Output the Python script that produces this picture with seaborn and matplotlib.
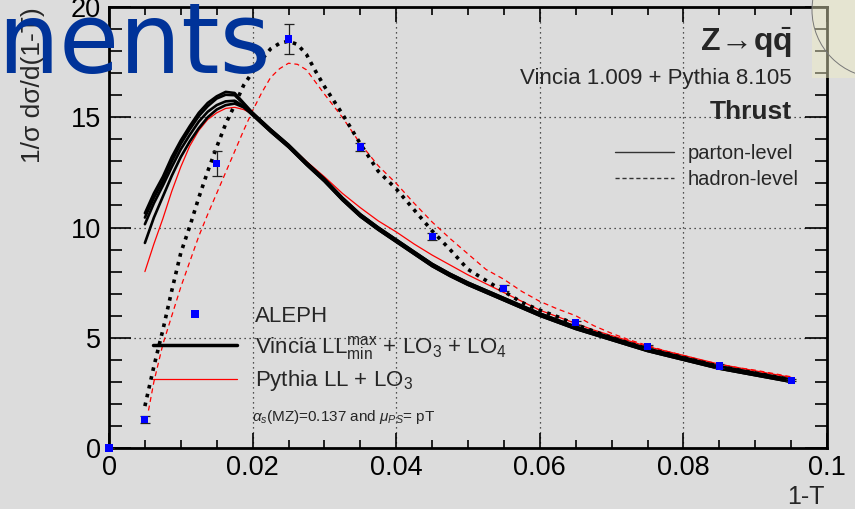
import numpy as np
import pandas as pd
import matplotlib
matplotlib.use("Agg")
import matplotlib.pyplot as plt
import seaborn as sns
from matplotlib.lines import Line2D
from matplotlib.ticker import MultipleLocator, FuncFormatter
from matplotlib.patches import Rectangle, Ellipse

# ── DATOS ────────────────────────────────────────────────────────────────────

# malla fina en la subida, malla gruesa en la cola
rise_x = [0.005, 0.00625, 0.0075, 0.00875, 0.01, 0.01125, 0.0125, 0.01375,
          0.015, 0.01625, 0.0175, 0.01875]
tail_x = [0.02, 0.0225, 0.025, 0.0275, 0.03, 0.0325, 0.035, 0.0375, 0.04, 0.0425,
          0.045, 0.0475, 0.05, 0.0525, 0.055, 0.0575, 0.06, 0.0625, 0.065, 0.0675,
          0.07, 0.0725, 0.075, 0.0775, 0.08, 0.0825, 0.085, 0.0875, 0.09, 0.0925,
          0.095]

# Vincia parton-level: subida de cada variante
vincia_rise_a = [10.65, 11.55, 12.3, 13.2, 13.95, 14.6, 15.2, 15.65, 15.95, 16.15, 16.1, 15.65]
vincia_rise_b = [10.45, 11.35, 12.1, 13.0, 13.8, 14.45, 15.05, 15.5, 15.85, 16.02, 16.0, 15.6]
vincia_rise_c = [10.15, 11.1, 11.9, 12.75, 13.55, 14.2, 14.8, 15.25, 15.55, 15.72, 15.75, 15.5]
vincia_rise_d = [9.3, 10.45, 11.4, 12.35, 13.2, 13.9, 14.5, 15.0, 15.35, 15.55, 15.62, 15.45]
# cola (0.02 .. 0.095)
vincia_tail_hi = [15.2, 14.45, 13.75, 12.95, 12.2, 11.35, 10.6, 10.0, 9.45, 8.9,
                  8.35, 7.9, 7.5, 7.15, 6.8, 6.45, 6.1, 5.8, 5.5, 5.25, 5.0, 4.75,
                  4.5, 4.3, 4.1, 3.9, 3.7, 3.55, 3.4, 3.25, 3.1]
vincia_tail_lo = [15.1, 14.35, 13.65, 12.85, 12.1, 11.25, 10.5, 9.9, 9.35, 8.8,
                  8.25, 7.8, 7.4, 7.05, 6.7, 6.35, 6.0, 5.7, 5.4, 5.15, 4.9, 4.65,
                  4.4, 4.2, 4.0, 3.8, 3.6, 3.45, 3.3, 3.15, 3.0]

# Pythia parton-level
pythia_par_rise = [8.0, 9.25, 10.4, 11.65, 12.75, 13.7, 14.4, 14.9, 15.2, 15.4, 15.45, 15.35]
pythia_par_tail = [15.15, 14.45, 13.75, 13.0, 12.3, 11.55, 10.9, 10.3, 9.8, 9.25,
                   8.75, 8.3, 7.85, 7.45, 7.05, 6.65, 6.25, 5.95, 5.65, 5.35, 5.1,
                   4.85, 4.6, 4.4, 4.2, 4.0, 3.8, 3.65, 3.5, 3.35, 3.2]

# hadron-level: malla fina hasta 0.03
had_x = [0.005, 0.00625, 0.0075, 0.00875, 0.01, 0.01125, 0.0125, 0.01375, 0.015,
         0.01625, 0.0175, 0.01875, 0.02, 0.02125, 0.0225, 0.02375, 0.025, 0.02625,
         0.0275, 0.02875, 0.03, 0.0325, 0.035, 0.0375, 0.04, 0.0425, 0.045, 0.0475,
         0.05, 0.0525, 0.055, 0.0575, 0.06, 0.0625, 0.065, 0.0675, 0.07, 0.0725,
         0.075, 0.0775, 0.08, 0.0825, 0.085, 0.0875, 0.09, 0.0925, 0.095]
vincia_had = [1.9, 3.7, 5.35, 7.15, 8.85, 10.05, 11.35, 12.55, 13.65, 14.7, 15.55,
              16.45, 17.05, 17.6, 18.1, 18.35, 18.45, 18.3, 17.85, 17.1, 16.4, 15.15,
              13.8, 12.55, 11.75, 10.8, 9.85, 9.0, 8.1, 7.6, 7.1, 6.6, 6.25, 5.95,
              5.6, 5.3, 5.0, 4.75, 4.5, 4.3, 4.1, 3.9, 3.7, 3.55, 3.4, 3.25, 3.1]

pythia_had_x = [0.0055] + had_x[1:]
pythia_had = [1.7, 3.0, 4.7, 6.0, 7.3, 8.45, 9.6, 10.6, 11.55, 12.5, 13.45, 14.4,
              15.3, 16.1, 16.8, 17.2, 17.45, 17.4, 17.15, 16.6, 16.05, 15.0, 13.8,
              12.8, 12.0, 11.1, 10.25, 9.5, 8.8, 8.1, 7.65, 7.1, 6.65, 6.3, 6.0,
              5.55, 5.2, 4.9, 4.65, 4.4, 4.2, 3.98, 3.8, 3.65, 3.53, 3.38, 3.23]

# ALEPH
aleph_x = [0.0, 0.005, 0.015, 0.025, 0.035, 0.045, 0.055, 0.065, 0.075, 0.085, 0.095]
aleph_y = [0.0, 1.3, 12.9, 18.55, 13.65, 9.6, 7.25, 5.68, 4.6, 3.72, 3.08]
aleph_err = [0.0, 0.15, 0.55, 0.7, 0.2, 0.15, 0.12, 0.1, 0.08, 0.07, 0.06]

x_ticks = [0, 0.02, 0.04, 0.06, 0.08, 0.1]
y_ticks = [0, 5, 10, 15, 20]

# ── ESTILO ───────────────────────────────────────────────────────────────────

bg = "#dcdcdc"
sns.set_style("ticks", rc={"axes.facecolor": bg, "figure.facecolor": bg})
plt.rcParams["font.family"] = ["Liberation Sans", "DejaVu Sans"]
plt.rcParams["mathtext.fontset"] = "custom"
plt.rcParams["mathtext.rm"] = "Liberation Sans"
plt.rcParams["mathtext.it"] = "Liberation Sans:italic"
plt.rcParams["mathtext.bf"] = "Liberation Sans:bold"

fig = plt.figure(figsize=(8.55, 5.09), dpi=100)
ax = fig.add_axes([109 / 855, 1 - 448 / 509, 718 / 855, 441 / 509])
ax.set_facecolor(bg)

# ── CURVAS ───────────────────────────────────────────────────────────────────

sns.lineplot(x=rise_x + tail_x, y=pythia_par_rise + pythia_par_tail, ax=ax,
             color="red", lw=0.9, estimator=None, sort=False, zorder=2)
sns.lineplot(x=pythia_had_x, y=pythia_had, ax=ax, color="red", lw=0.9,
             linestyle=(0, (4, 3)), estimator=None, sort=False, zorder=2)

for rise, tail in [(vincia_rise_a, vincia_tail_hi), (vincia_rise_b, vincia_tail_hi),
                   (vincia_rise_c, vincia_tail_lo), (vincia_rise_d, vincia_tail_lo)]:
    sns.lineplot(x=rise_x + tail_x, y=rise + tail, ax=ax, color="black", lw=1.9,
                 estimator=None, sort=False, zorder=3)

sns.lineplot(x=had_x, y=vincia_had, ax=ax, color="black", lw=2.6,
             linestyle=(0, (1.0, 1.5)), estimator=None, sort=False, zorder=3)

ax.errorbar(aleph_x, aleph_y, yerr=aleph_err, fmt="none", ecolor="#222222",
            elinewidth=0.9, capsize=3.5, capthick=0.9, zorder=5)
sns.scatterplot(x=aleph_x, y=aleph_y, ax=ax, marker="s", color="#0000ff", s=26,
                edgecolor="none", zorder=6, clip_on=False)

# ── EJES ─────────────────────────────────────────────────────────────────────

ax.set_xlim(0, 0.1)
ax.set_ylim(0, 20)
ax.set_xticks(x_ticks)
ax.set_yticks(y_ticks)
ax.xaxis.set_minor_locator(MultipleLocator(0.005))
ax.yaxis.set_minor_locator(MultipleLocator(1))
ax.xaxis.set_major_formatter(FuncFormatter(lambda v, p: f"{v:g}"))
ax.tick_params(axis="both", which="both", direction="in", top=True, right=True,
               labelsize=19.5, colors="black")
ax.tick_params(axis="x", which="major", length=11, width=1.2, pad=5)
ax.tick_params(axis="x", which="minor", length=6, width=1.2)
ax.tick_params(axis="y", which="major", length=16, width=1.2, pad=6)
ax.tick_params(axis="y", which="minor", length=9, width=1.2)
for s in ax.spines.values():
    s.set_linewidth(2)
    s.set_color("black")
ax.grid(which="major", linestyle=(0, (1, 3)), color="#222222", lw=0.9)
ax.set_axisbelow(True)

ax.set_xlabel("1-T", loc="right", fontsize=18)
ax.xaxis.set_label_coords(0.997, -0.111)
ax.xaxis.label.set_va("center")
ax.set_ylabel("1/σ dσ/d(1-T)", loc="top", fontsize=19)
ax.yaxis.set_label_coords(-0.106, 1.0)
ax.yaxis.label.set_va("center")

# ── TEXTOS Y LEYENDAS ────────────────────────────────────────────────────────

ax.text(0.951, 0.918, r"$\mathbf{Z}\!\rightarrow\!\mathbf{q}\bar{\mathbf{q}}$",
        transform=ax.transAxes, ha="right", va="center", fontsize=23)
ax.text(0.951, 0.837, "Vincia 1.009 + Pythia 8.105", transform=ax.transAxes,
        ha="right", va="center", fontsize=16)
ax.text(0.951, 0.762, "Thrust", transform=ax.transAxes, ha="right", va="center",
        fontsize=19, fontweight="bold")

lvl_handles = [Line2D([], [], color="#333333", lw=1.0),
               Line2D([], [], color="#333333", lw=1.0, linestyle=(0, (3, 2)))]
leg2 = ax.legend(lvl_handles, ["parton-level", "hadron-level"], loc="upper left",
                 bbox_to_anchor=(0.705, 0.69), frameon=False, fontsize=14.5,
                 handlelength=2.9, handletextpad=0.7, labelspacing=0.38,
                 borderpad=0, borderaxespad=0)
ax.add_artist(leg2)

main_handles = [Line2D([], [], marker="s", color="#0000ff", linestyle="none",
                       markersize=5.5, markeredgewidth=0),
                Line2D([], [], color="black", lw=2.5),
                Line2D([], [], color="red", lw=0.9)]
main_labels = ["ALEPH",
               r"Vincia LL$_{\rm min}^{\rm max}$ + LO$_3$ + LO$_4$",
               r"Pythia LL + LO$_3$"]
ax.legend(main_handles, main_labels, loc="upper left", bbox_to_anchor=(0.0613, 0.322),
          frameon=False, fontsize=16, handlelength=3.8, handletextpad=0.8,
          labelspacing=0.3, borderpad=0, borderaxespad=0)
ax.text(0.199, 0.07, r"$\alpha_s$(MZ)=0.137 and $\mu_{PS}$= pT",
        transform=ax.transAxes, ha="left", va="center", fontsize=11)

# título de la diapositiva cortado y logo
fig.text(-0.003, 1 - 73 / 509, "nents", fontsize=70.5, color="#003399",
         family="DejaVu Sans", va="baseline", ha="left", zorder=10)
fig.add_artist(Rectangle((812 / 855, 1 - 78 / 509), 43 / 855, 78 / 509,
                         transform=fig.transFigure, facecolor="#f2efc4",
                         edgecolor="none", alpha=0.45, zorder=10))
fig.add_artist(Ellipse((880 / 855, 1 - 10 / 509), 136 / 855, 136 / 509,
                       transform=fig.transFigure, facecolor="none",
                       edgecolor="#777777", lw=0.7, zorder=11))

fig.savefig("out.png", dpi=100, facecolor=bg)
plt.close(fig)
